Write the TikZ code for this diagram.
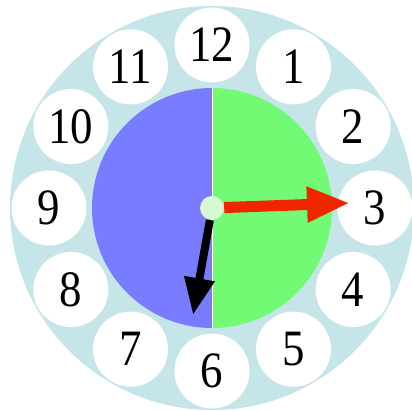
\documentclass[tikz,border=0pt]{standalone}
\usepackage{fontspec}
\usepackage{graphicx}
\setmainfont{Liberation Serif}
\usetikzlibrary{arrows.meta}
\definecolor{rimblue}{RGB}{198,229,233}
\definecolor{faceblue}{RGB}{122,124,255}
\definecolor{facegreen}{RGB}{115,250,117}
\definecolor{handred}{RGB}{240,38,0}
\definecolor{hubgreen}{RGB}{212,250,212}
\newcommand{\clocknum}[1]{\scalebox{0.88}[1]{#1}}
\tikzset{
  numdisc/.style={circle, fill=white, minimum size=75pt, inner sep=0pt,
    font=\fontsize{51}{51}\selectfont},
  hub/.style={circle, fill=hubgreen, minimum size=24pt, inner sep=0pt},
  minutehand/.style={line width=11pt, handred, -{Triangle[length=43pt,width=33pt]}},
  hourhand/.style={line width=8pt, black, -{Triangle[length=37pt,width=29pt]}}
}
\begin{document}
\begin{tikzpicture}[x=1pt, y=1pt]
      \useasboundingbox (-212,-202) rectangle (200,208);
      \fill[rimblue] (0,0) circle (202);
      % hour discs
      \foreach \h in {1,...,12}
        \node[numdisc] (n\h) at ({90-30*\h}:163) {\clocknum{\h}};
      % face
      \fill[faceblue] (0,-120) arc (270:90:120) -- cycle;
      \fill[facegreen] (0,120) arc (90:-90:120) -- cycle;
      \draw[white, line width=0.8pt] (0,120) -- (0,-120);
      % hands
      \node[hub] (hub) at (0,0) {};
      \coordinate (mintip) at (138,5);
      \coordinate (hourtip) at (-19,-107);
      \draw[minutehand] (hub) -- (mintip);
      \draw[hourhand] (hub) -- (hourtip);
    \end{tikzpicture}
\end{document}
